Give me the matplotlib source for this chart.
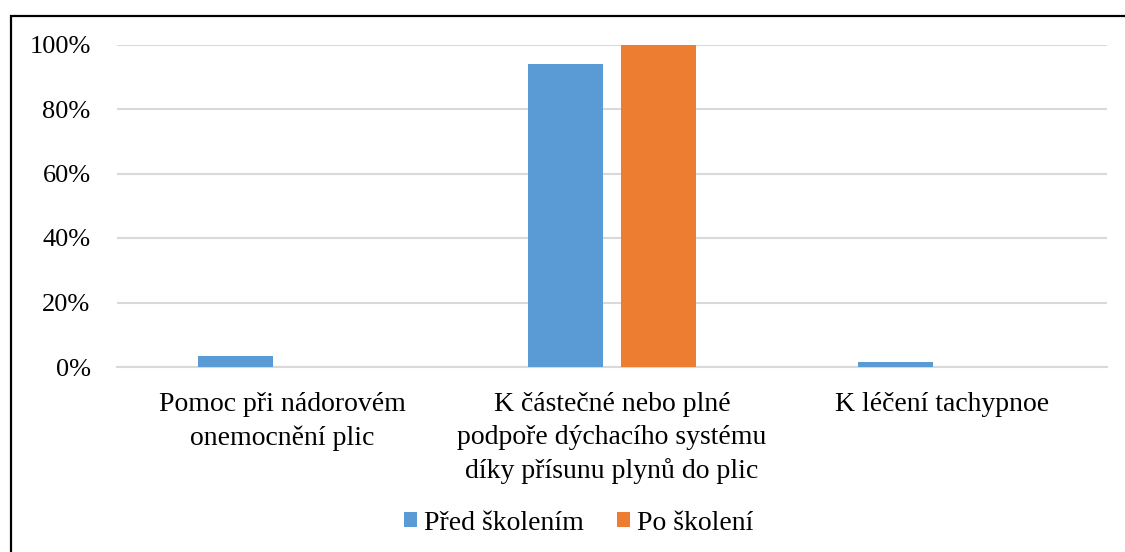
import numpy as np
import matplotlib.pyplot as plt
from matplotlib.patches import Rectangle

# data
categories = ['Pomoc při nádorovém\nonemocnění plic',
              'K částečné nebo plné\npodpoře dýchacího systému\ndíky přísunu plynů do plic',
              'K léčení tachypnoe']
pred = [0.035, 0.941, 0.017]
po = [0.0, 1.0, 0.0]
yticks = [0, 0.2, 0.4, 0.6, 0.8, 1.0]
ytick_labels = ['0%', '20%', '40%', '60%', '80%', '100%']

plt.rcParams['font.family'] = ['Liberation Serif', 'DejaVu Serif']

fig = plt.figure(figsize=(11.25, 5.52), dpi=100)
W, H = 1125, 552
ax = fig.add_axes([117 / W, 1 - 367 / H, (1107 - 117) / W, (367 - 44.5) / H])

x = np.arange(len(categories))
w = 0.227
off = 0.142
ax.bar(x - off, pred, w, color='#5B9BD5', label='Před školením', zorder=3)
ax.bar(x + off, po, w, color='#ED7D31', label='Po školení', zorder=3)

ax.set_xlim(-0.5, 2.5)
ax.set_ylim(0, 1)
ax.set_yticks(yticks)
ax.set_yticklabels(ytick_labels, fontsize=19)
ax.set_xticks(x)
ax.set_xticklabels(categories, fontsize=20, linespacing=1.42)
ax.tick_params(axis='both', length=0)
ax.tick_params(axis='x', pad=18)
ax.tick_params(axis='y', pad=19)
ax.grid(axis='y', color='#D9D9D9', linewidth=1.5, zorder=0)
for s in ['top', 'right', 'left']:
    ax.spines[s].set_visible(False)
ax.spines['bottom'].set_color('#D9D9D9')
ax.spines['bottom'].set_linewidth(1.5)

fig.legend(loc='center', bbox_to_anchor=(579 / W, 1 - 523 / H), ncol=2,
           frameon=False, fontsize=20, handlelength=0.47, handleheight=0.47,
           handletextpad=0.25, columnspacing=1.2)

# outer chart border
fig.patches.append(Rectangle((10.5 / W, -0.1), 1.2, 1 - 16 / H + 0.1,
                             transform=fig.transFigure, fill=False,
                             edgecolor='black', linewidth=1.6))

fig.savefig('out.png', dpi=100)
